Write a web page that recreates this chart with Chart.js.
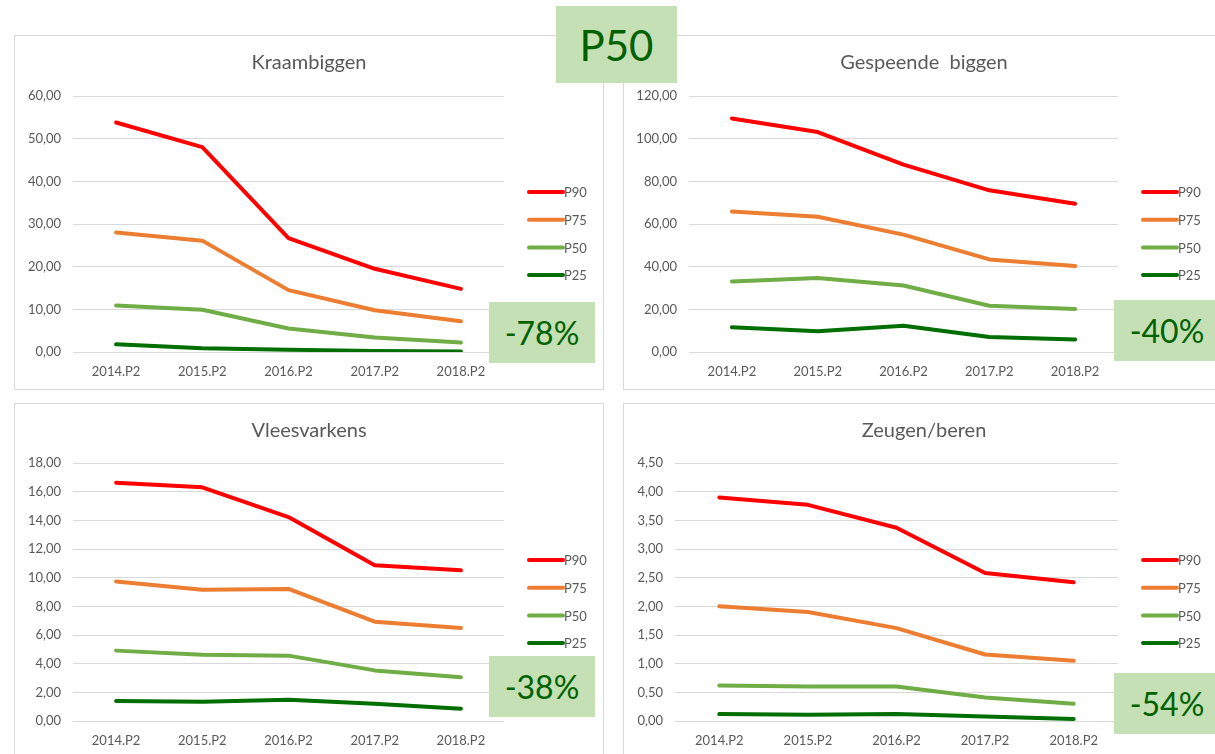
<!DOCTYPE html>
<html>
<head>
<meta charset="utf-8">
<script src="https://cdn.jsdelivr.net/npm/chart.js@4.4.1/dist/chart.umd.min.js"></script>
<style>
  html, body { margin: 0; padding: 0; background: #fff; }
  body { width: 1215px; height: 754px; overflow: hidden; position: relative; font-family: Lato, "Liberation Sans", sans-serif; }
  .panel { position: absolute; border: 1px solid #d9d9d9; background: #fff; }
  .panel canvas { position: absolute; left: 0; top: 0; }
  .tag { position: absolute; background: #c5e0b4; color: #006100; display: flex; align-items: center; justify-content: center; }
</style>
</head>
<body>
<div class="panel" style="left:14px;top:35px;width:588px;height:353px"><canvas id="kraam" width="588" height="353"></canvas></div>
<div class="panel" style="left:623px;top:35px;width:600px;height:353px"><canvas id="gespeend" width="600" height="353"></canvas></div>
<div class="panel" style="left:14px;top:403px;width:588px;height:370px"><canvas id="vlees" width="588" height="370"></canvas></div>
<div class="panel" style="left:623px;top:403px;width:600px;height:370px"><canvas id="zeugen" width="600" height="370"></canvas></div>

<div class="tag" style="left:556px;top:6px;width:121px;height:77px;font-size:42px">P50</div>
<div class="tag" style="left:489px;top:302px;width:106px;height:61px;font-size:32px">-78%</div>
<div class="tag" style="left:1114px;top:300px;width:106px;height:61px;font-size:32px">-40%</div>
<div class="tag" style="left:489px;top:656px;width:106px;height:61px;font-size:32px">-38%</div>
<div class="tag" style="left:1114px;top:673px;width:106px;height:61px;font-size:32px">-54%</div>

<script>
// categories (x axis)
var periods = ["2014.P2", "2015.P2", "2016.P2", "2017.P2", "2018.P2"];
var seriesNames = ["P90", "P75", "P50", "P25"];
var seriesColors = ["#ff0000", "#ed7d31", "#70ad47", "#006e00"];

// Kraambiggen
var kraamP90 = [53.8, 48.0, 26.7, 19.5, 14.8];
var kraamP75 = [28.0, 26.1, 14.5, 9.8, 7.2];
var kraamP50 = [10.9, 9.9, 5.5, 3.4, 2.2];
var kraamP25 = [1.8, 0.9, 0.55, 0.25, 0.1];

// Gespeende biggen
var gespeendP90 = [109.5, 103.1, 87.8, 75.8, 69.5];
var gespeendP75 = [65.9, 63.4, 55.0, 43.4, 40.3];
var gespeendP50 = [33.1, 34.7, 31.2, 21.7, 20.2];
var gespeendP25 = [11.6, 9.7, 12.3, 7.0, 5.9];

// Vleesvarkens
var vleesP90 = [16.63, 16.30, 14.23, 10.86, 10.51];
var vleesP75 = [9.74, 9.16, 9.21, 6.93, 6.49];
var vleesP50 = [4.91, 4.63, 4.56, 3.53, 3.05];
var vleesP25 = [1.40, 1.35, 1.49, 1.21, 0.86];

// Zeugen/beren
var zeugenP90 = [3.90, 3.77, 3.37, 2.58, 2.42];
var zeugenP75 = [2.00, 1.90, 1.62, 1.16, 1.05];
var zeugenP50 = [0.62, 0.60, 0.60, 0.41, 0.30];
var zeugenP25 = [0.12, 0.11, 0.12, 0.08, 0.035];

// y axis ranges (max, step)
var yMax  = [60, 120, 18, 4.5];
var yStep = [10, 20, 2, 0.5];

var grey = "#595959";
Chart.defaults.font.family = "Lato, 'Liberation Sans', sans-serif";
Chart.defaults.color = grey;

// Excel-style legend at the right of the plot: short thick line + label
var sideLegend = {
  id: "sideLegend",
  afterDraw: function (chart, args, opts) {
    var ctx = chart.ctx;
    var x = chart.chartArea.right + opts.gap;
    ctx.save();
    ctx.font = "13px Lato, 'Liberation Sans', sans-serif";
    ctx.textBaseline = "middle";
    chart.data.datasets.forEach(function (ds, i) {
      var y = opts.top + i * opts.step;
      ctx.strokeStyle = ds.borderColor;
      ctx.lineWidth = 4;
      ctx.lineCap = "round";
      ctx.beginPath();
      ctx.moveTo(x + 1, y);
      ctx.lineTo(x + 35, y);
      ctx.stroke();
      ctx.fillStyle = grey;
      ctx.fillText(ds.label, x + 36, y + 1);
    });
    ctx.restore();
  }
};

function makeChart(id, title, series, idx, box) {
  var canvas = document.getElementById(id);
  var W = canvas.width, H = canvas.height;
  var xAxisH = 37;
  var titleLine = 20 * 1.2;
  var titleTop = 27 - titleLine / 2;
  return new Chart(canvas, {
    type: "line",
    data: {
      labels: periods,
      datasets: series.map(function (vals, i) {
        return {
          label: seriesNames[i],
          data: vals,
          borderColor: seriesColors[i],
          backgroundColor: seriesColors[i],
          borderWidth: 4,
          pointRadius: 0,
          tension: 0,
          borderJoinStyle: "round",
          borderCapStyle: "round"
        };
      })
    },
    options: {
      responsive: false,
      animation: false,
      layout: { padding: { left: 0, top: 0, right: 0, bottom: H - box.bottom - xAxisH } },
      plugins: {
        legend: { display: false },
        tooltip: { enabled: false },
        title: {
          display: true,
          text: title,
          color: grey,
          font: { size: 20, weight: "normal" },
          padding: { top: titleTop, bottom: box.top - titleTop - titleLine }
        },
        sideLegend: { gap: 24, top: 156, step: 27.7 }
      },
      scales: {
        x: {
          offset: true,
          grid: { display: false, drawTicks: false },
          border: { display: false },
          ticks: { color: grey, font: { size: 13 }, padding: 12, maxRotation: 0 },
          afterFit: function (s) { s.height = xAxisH; }
        },
        y: {
          min: 0,
          max: yMax[idx],
          grid: { color: "#d9d9d9", lineWidth: 1, drawTicks: false },
          border: { display: false },
          ticks: {
            stepSize: yStep[idx],
            color: grey,
            font: { size: 13 },
            padding: 12,
            callback: function (v) { return v.toFixed(2).replace(".", ","); }
          },
          afterFit: function (s) { s.width = box.left; }
        },
        // empty right-hand axis: reserves the legend space so the title stays centred on the panel
        legendSpace: {
          type: "linear",
          position: "right",
          min: 0,
          max: 1,
          grid: { display: false, drawTicks: false },
          border: { display: false },
          ticks: { display: false },
          afterFit: function (s) { s.width = W - box.right; }
        }
      }
    },
    plugins: [sideLegend]
  });
}

makeChart("kraam", "Kraambiggen", [kraamP90, kraamP75, kraamP50, kraamP25], 0,
  { left: 58, right: 489, top: 60, bottom: 316 });
makeChart("gespeend", "Gespeende  biggen", [gespeendP90, gespeendP75, gespeendP50, gespeendP25], 1,
  { left: 65, right: 494, top: 60, bottom: 316 });
makeChart("vlees", "Vleesvarkens", [vleesP90, vleesP75, vleesP50, vleesP25], 2,
  { left: 58, right: 489, top: 59, bottom: 317 });
makeChart("zeugen", "Zeugen/beren", [zeugenP90, zeugenP75, zeugenP50, zeugenP25], 3,
  { left: 51, right: 494, top: 59, bottom: 317 });
</script>
</body>
</html>
